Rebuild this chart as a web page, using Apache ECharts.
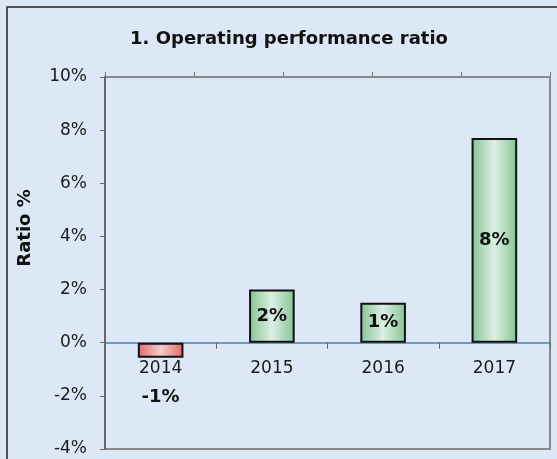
<!DOCTYPE html>
<html>
<head>
<meta charset="utf-8">
<script src="https://cdn.jsdelivr.net/npm/echarts@6/dist/echarts.min.js"></script>
<style>
html, body { margin: 0; padding: 0; }
#chart { width: 557px; height: 459px; }
</style>
</head>
<body>
<div id="chart"></div>
<script>
var years = ['2014', '2015', '2016', '2017'];
var ratios = [-0.57, 2.0, 1.5, 7.7];
var ratioLabels = ['-1%', '2%', '1%', '8%'];
var yTicks = [-4, -2, 0, 2, 4, 6, 8, 10];

function initChart() {
	var myChart = echarts.init(document.getElementById('chart'));

	var greenFill = new echarts.graphic.LinearGradient(0, 0, 1, 0, [
		{ offset: 0, color: '#86c296' },
		{ offset: 0.5, color: '#dcf0e2' },
		{ offset: 1, color: '#86c296' }
	]);
	var redFill = new echarts.graphic.LinearGradient(0, 0, 1, 0, [
		{ offset: 0, color: '#e06868' },
		{ offset: 0.5, color: '#f4cccc' },
		{ offset: 1, color: '#e06868' }
	]);

	var barData = ratios.map(function(v, i) {
		var item = {
			value: v,
			itemStyle: { color: v < 0 ? redFill : greenFill },
			label: { formatter: ratioLabels[i] }
		};
		if (v < 0) {
			item.label.position = 'bottom';
			item.label.distance = 30;
		}
		return item;
	});

	// category names sit just under the zero line, like the original
	var yearLabels = years.map(function(y) {
		return [y, 0];
	});

	var option = {
		backgroundColor: '#dce8f5',
		animation: false,
		title: {
			text: '1. Operating performance ratio',
			left: 284,
			top: 25,
			textAlign: 'center',
			textStyle: {
				fontFamily: 'DejaVu Sans',
				fontSize: 18,
				fontWeight: 'bold',
				color: '#111'
			}
		},
		graphic: [{
			type: 'rect',
			shape: { x: 7, y: 7, width: 600, height: 500 },
			style: { fill: 'none', stroke: '#222', lineWidth: 1.5 },
			silent: true
		}],
		grid: {
			left: 105,
			right: 7,
			top: 77,
			bottom: 10,
			outerBoundsMode: 'none',
			containLabel: false,
			show: true,
			borderColor: '#8a8a8a',
			borderWidth: 2,
			backgroundColor: 'transparent'
		},
		xAxis: [{
			type: 'category',
			data: years,
			axisLine: {
				onZero: true,
				lineStyle: { color: '#4a7ebb', width: 1.5 }
			},
			axisTick: {
				show: true,
				length: 6,
				lineStyle: { color: '#666' }
			},
			axisLabel: { show: false }
		}, {
			type: 'category',
			position: 'top',
			data: ['', '', '', '', ''],
			axisLine: { show: false },
			axisTick: {
				show: true,
				length: 5,
				lineStyle: { color: '#777' }
			},
			axisLabel: { show: false }
		}],
		yAxis: [{
			type: 'value',
			min: -4,
			max: 10,
			interval: 2,
			name: 'Ratio %',
			nameLocation: 'middle',
			nameGap: 71,
			nameTextStyle: {
				fontFamily: 'DejaVu Sans',
				fontSize: 18,
				fontWeight: 'bold',
				color: '#111',
				padding: [0, 0, 0, 70]
			},
			axisLine: {
				show: true,
				lineStyle: { color: '#666', width: 2 }
			},
			axisTick: {
				show: true,
				length: 5,
				lineStyle: { color: '#666' }
			},
			axisLabel: {
				fontFamily: 'DejaVu Sans',
				fontSize: 17,
				color: '#1a1a1a',
				margin: 18,
				formatter: '{value}%'
			},
			splitLine: { show: false }
		}],
		series: [{
			name: 'Ratio',
			type: 'bar',
			data: barData,
			barWidth: '41%',
			itemStyle: {
				borderColor: '#111',
				borderWidth: 2
			},
			label: {
				show: true,
				position: 'inside',
				fontFamily: 'DejaVu Sans',
				fontSize: 18,
				fontWeight: 'bold',
				color: '#111'
			}
		}, {
			name: 'Years',
			type: 'scatter',
			data: yearLabels,
			symbolSize: 1,
			itemStyle: { color: '#4a7ebb', opacity: 1 },
			silent: true,
			z: 5,
			label: {
				show: true,
				position: 'bottom',
				distance: 17,
				formatter: function(p) { return p.value[0]; },
				fontFamily: 'DejaVu Sans',
				fontSize: 17,
				color: '#1a1a1a',
				opacity: 1,
				textBorderWidth: 0
			}
		}]
	};
	myChart.setOption(option);
}

initChart();
</script>
</body>
</html>
